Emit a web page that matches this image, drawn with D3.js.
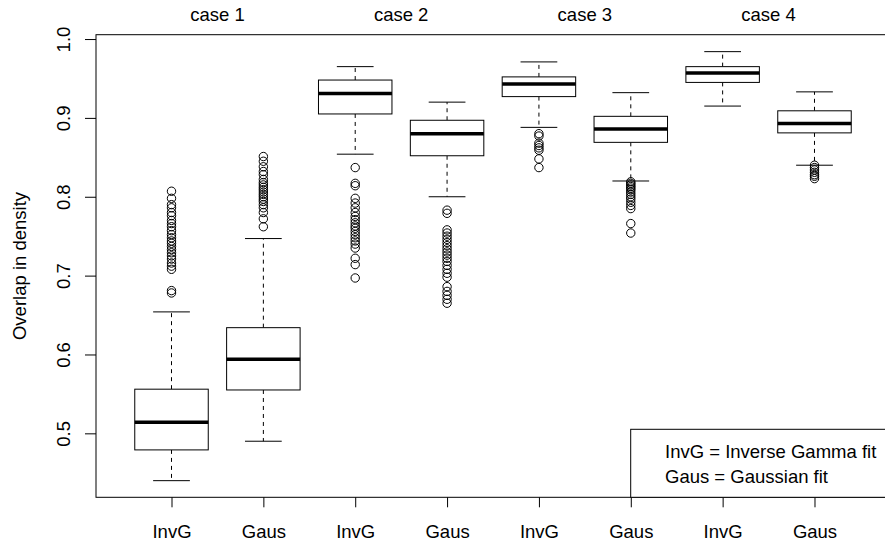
<!DOCTYPE html>
<html>
<head>
<meta charset="utf-8">
<script src="https://cdn.jsdelivr.net/npm/d3@7"></script>
<style>
	body{margin:0;background:#fff;}
	svg text{font-family:"Liberation Sans",Arial,Helvetica,sans-serif;fill:#000;}
</style>
</head>
<body>
<svg id="chart" width="885" height="542"></svg>
<script>
// group labels along the x axis, and the case headings over each pair
const groups = ['InvG','Gaus','InvG','Gaus','InvG','Gaus','InvG','Gaus'];
const cases = ['case 1','case 2','case 3','case 4'];
const yTicks = [0.5,0.6,0.7,0.8,0.9,1.0];

// five-number summaries
const whiskLo = [0.440,0.490,0.854,0.800,0.888,0.820,0.915,0.840];
const q1      = [0.479,0.555,0.905,0.852,0.927,0.869,0.945,0.881];
const median  = [0.514,0.594,0.931,0.880,0.943,0.886,0.957,0.893];
const q3      = [0.556,0.634,0.948,0.897,0.952,0.902,0.965,0.909];
const whiskHi = [0.654,0.747,0.965,0.920,0.971,0.932,0.984,0.933];

// outliers per box
const outliers = [
	[0.807,0.798,0.790,0.786,0.780,0.776,0.770,0.766,0.762,0.757,0.752,0.748,0.744,0.741,0.737,0.733,0.729,0.725,0.721,0.716,0.712,0.708,0.681,0.678],
	[0.851,0.845,0.838,0.832,0.828,0.822,0.818,0.815,0.812,0.809,0.806,0.803,0.800,0.797,0.794,0.790,0.786,0.780,0.772,0.762],
	[0.837,0.817,0.814,0.798,0.792,0.786,0.780,0.775,0.771,0.767,0.763,0.760,0.756,0.752,0.748,0.744,0.740,0.735,0.722,0.714,0.697],
	[0.783,0.779,0.758,0.754,0.750,0.746,0.742,0.738,0.734,0.730,0.726,0.722,0.718,0.713,0.708,0.703,0.698,0.686,0.680,0.675,0.670,0.665],
	[0.880,0.877,0.868,0.865,0.862,0.859,0.848,0.837],
	[0.819,0.817,0.815,0.813,0.811,0.809,0.806,0.803,0.800,0.797,0.793,0.789,0.785,0.766,0.754],
	[],
	[0.840,0.837,0.834,0.831,0.828,0.826,0.823]
];
const legendLines = ['InvG = Inverse Gamma fit','Gaus = Gaussian fit'];

const plot = {left:96, right:890, top:34.7, bottom:497.3};
const fontSize = 18.5;

const svg = d3.select('#chart');

const x = d3.scaleLinear().domain([0.178,8.822]).range([plot.left,plot.right]);
const y = d3.scaleLinear().domain([0.4189,1.0055]).range([plot.bottom,plot.top]);
const boxW = (x(2)-x(1))*0.8;

const data = groups.map((g,i)=>({
	pos:i+1, label:g,
	lo:whiskLo[i], q1:q1[i], med:median[i], q3:q3[i], hi:whiskHi[i],
	out:outliers[i]
}));

// frame
svg.append('rect')
	.attr('x',plot.left).attr('y',plot.top)
	.attr('width',plot.right-plot.left).attr('height',plot.bottom-plot.top)
	.attr('fill','none').attr('stroke','#000').attr('stroke-width',1);

// y axis, labels turned like R's las=0
const yAxis = d3.axisLeft(y).tickValues(yTicks).tickFormat(d3.format('.1f')).tickSize(11).tickSizeOuter(0);
const gy = svg.append('g').attr('transform',`translate(${plot.left},0)`).call(yAxis);
gy.select('.domain').remove();
gy.selectAll('line').attr('stroke','#000');
gy.selectAll('text')
	.attr('font-size',fontSize)
	.attr('text-anchor','middle')
	.attr('x',0).attr('y',0).attr('dy',0)
	.attr('transform',`translate(${70-plot.left},0) rotate(-90)`);

// x axis
const xAxis = d3.axisBottom(x).tickValues(data.map(d=>d.pos)).tickFormat((d,i)=>groups[i]).tickSize(10).tickSizeOuter(0);
const gx = svg.append('g').attr('transform',`translate(0,${plot.bottom})`).call(xAxis);
gx.select('.domain').remove();
gx.selectAll('line').attr('stroke','#000');
gx.selectAll('text').attr('font-size',fontSize).attr('y',538-plot.bottom).attr('dy',0);

// y title
svg.append('text')
	.attr('transform',`translate(26,${(plot.top+plot.bottom)/2}) rotate(-90)`)
	.attr('text-anchor','middle')
	.attr('font-size',fontSize)
	.text('Overlap in density');

// case headings
svg.selectAll('text.case')
	.data(cases)
	.join('text')
	.classed('case',true)
	.attr('x',(d,i)=>x(2*i+1.5))
	.attr('y',21)
	.attr('text-anchor','middle')
	.attr('font-size',fontSize)
	.text(d=>d);

// boxes
const gb = svg.selectAll('g.box')
	.data(data)
	.join('g')
	.classed('box',true);

gb.append('line')
	.attr('x1',d=>x(d.pos)).attr('x2',d=>x(d.pos))
	.attr('y1',d=>y(d.q3)).attr('y2',d=>y(d.hi))
	.attr('stroke','#000').attr('stroke-dasharray','4,4');
gb.append('line')
	.attr('x1',d=>x(d.pos)).attr('x2',d=>x(d.pos))
	.attr('y1',d=>y(d.q1)).attr('y2',d=>y(d.lo))
	.attr('stroke','#000').attr('stroke-dasharray','4,4');
gb.append('line')
	.attr('x1',d=>x(d.pos)-boxW/4).attr('x2',d=>x(d.pos)+boxW/4)
	.attr('y1',d=>y(d.hi)).attr('y2',d=>y(d.hi))
	.attr('stroke','#000');
gb.append('line')
	.attr('x1',d=>x(d.pos)-boxW/4).attr('x2',d=>x(d.pos)+boxW/4)
	.attr('y1',d=>y(d.lo)).attr('y2',d=>y(d.lo))
	.attr('stroke','#000');
gb.append('rect')
	.attr('x',d=>x(d.pos)-boxW/2).attr('width',boxW)
	.attr('y',d=>y(d.q3)).attr('height',d=>y(d.q1)-y(d.q3))
	.attr('fill','#fff').attr('stroke','#000');
gb.append('line')
	.attr('x1',d=>x(d.pos)-boxW/2).attr('x2',d=>x(d.pos)+boxW/2)
	.attr('y1',d=>y(d.med)).attr('y2',d=>y(d.med))
	.attr('stroke','#000').attr('stroke-width',3.5);
gb.selectAll('circle')
	.data(d=>d.out.map(v=>({pos:d.pos,v})))
	.join('circle')
	.attr('cx',d=>x(d.pos)).attr('cy',d=>y(d.v))
	.attr('r',4.2)
	.attr('fill','none').attr('stroke','#000').attr('stroke-width',1);

// legend
const lg = svg.append('g');
lg.append('rect')
	.attr('x',630.7).attr('y',429.3)
	.attr('width',plot.right-630.7).attr('height',plot.bottom-429.3)
	.attr('fill','#fff').attr('stroke','#000');
lg.selectAll('text')
	.data(legendLines)
	.join('text')
	.attr('x',665)
	.attr('y',(d,i)=>458+i*25)
	.attr('font-size',fontSize)
	.text(d=>d);
</script>
</body>
</html>
